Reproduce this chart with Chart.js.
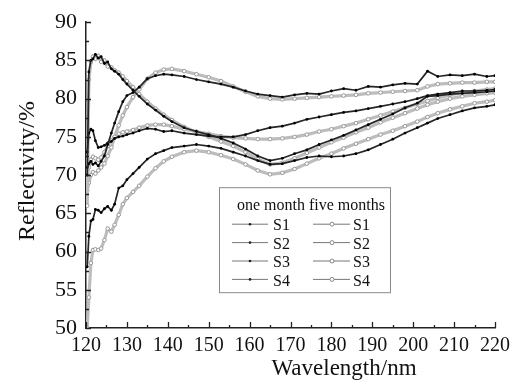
<!DOCTYPE html>
<html>
<head>
<meta charset="utf-8">
<title>Reflectivity vs wavelength</title>
<script src="https://cdn.jsdelivr.net/npm/chart.js@4.4.1/dist/chart.umd.min.js"></script>
<style>
    html, body { margin: 0; padding: 0; background: #fff; }
    #wrap { width: 516px; height: 381px; }
</style>
</head>
<body>
<div id="wrap"><canvas id="chart" width="516" height="381"></canvas></div>
<script>
// Wavelength grid (nm) shared by all curves
const wavelength = [120.3, 120.7, 121.2, 121.7, 122.3, 123, 123.7, 124.5, 125.3, 126.2,
    127, 128, 129, 130, 131.5, 133, 135, 137, 139, 141,
    144, 147, 150, 153, 156, 159, 162, 165, 168, 171,
    174, 177, 180, 183, 186, 189, 192, 195, 198, 201,
    203.5, 206, 209, 212, 215, 218, 220];

// one month
const s1OneMonth = [70, 83.5, 85, 85.2, 85.8, 85.3, 85.5, 84.6, 84.8, 83.9,
    83.6, 83.2, 82.5, 81.9, 81.1, 80.3, 79.3, 78.5, 77.7, 77,
    76.2, 75.7, 75.3, 74.8, 74.2, 73.4, 72.5, 71.9, 72.2, 72.8,
    73.3, 74, 74.6, 75.2, 75.9, 76.6, 77.3, 78, 78.8, 79.4,
    80.3, 80.4, 80.6, 80.7, 80.8, 80.9, 81];
const s2OneMonth = [71, 71.5, 71.8, 71.4, 71.6, 71.2, 71.8, 72.5, 74, 75.5,
    76.8, 78.3, 79.6, 80.4, 80.8, 81.5, 82.6, 83, 83.2, 83.1,
    82.9, 82.5, 82.2, 81.9, 81.5, 81, 80.6, 80.4, 80.2, 80.5,
    80.7, 80.6, 81, 81.3, 81.1, 81.6, 81.5, 81.8, 82, 81.9,
    83.6, 82.9, 83.1, 83, 83.2, 82.9, 83];
const s3OneMonth = [73, 75.5, 76, 75.8, 74.5, 73.6, 73.7, 73.9, 74.2, 74.4,
    74.8, 75, 75.1, 75.3, 75.5, 75.8, 76.1, 76, 75.7, 75.8,
    75.5, 75.3, 75.1, 75, 75, 75.3, 75.8, 76.2, 76.4, 76.8,
    77.3, 77.6, 77.9, 78.2, 78.4, 78.7, 79, 79.3, 79.6, 80,
    80.4, 80.6, 80.8, 81, 81, 81.1, 81.2];
const s4OneMonth = [58, 62, 64, 64.2, 65.5, 65.4, 65.1, 65.6, 65.9, 65.4,
    66.2, 68.3, 68.6, 69.4, 70.2, 71, 72.1, 72.8, 73.2, 73.6,
    73.8, 74, 73.8, 73.5, 73, 72.5, 71.9, 71.4, 71.5, 71.9,
    72.3, 72.5, 72.4, 72.5, 72.8, 73.3, 74, 74.7, 75.5, 76.2,
    76.8, 77.4, 77.9, 78.4, 78.8, 79, 79.2];

// five months
const s1FiveMonths = [66, 82.5, 84.8, 85.5, 85.2, 85.6, 84.8, 85, 84.2, 84.1,
    83.7, 83.4, 82.9, 82.3, 81.5, 80.6, 79.6, 78.7, 77.9, 77.2,
    76.3, 75.6, 75, 74.4, 73.8, 73, 72.1, 71.4, 71.6, 72.2,
    72.9, 73.6, 74.3, 74.9, 75.6, 76.2, 76.9, 77.5, 78.1, 78.7,
    79.2, 79.6, 80, 80.3, 80.5, 80.7, 80.8];
const s2FiveMonths = [68, 69, 70, 70.4, 70.2, 70.6, 71, 71.5, 72.5, 73.6,
    75, 76.5, 77.8, 78.9, 80.2, 81.2, 82.6, 83.4, 83.8, 83.9,
    83.6, 83.2, 82.8, 82.3, 81.6, 80.9, 80.3, 80, 79.9, 80,
    80.1, 80.2, 80.3, 80.4, 80.5, 80.7, 80.8, 80.9, 81, 81.1,
    81.6, 81.9, 82, 82.1, 82.1, 82.2, 82.2];
const s3FiveMonths = [70, 71, 72, 72.4, 72.2, 72, 72.3, 73, 73.8, 74.5,
    75, 75.4, 75.6, 75.7, 75.9, 76.2, 76.5, 76.6, 76.6, 76.4,
    76, 75.7, 75.4, 75.1, 74.9, 74.8, 74.7, 74.7, 74.8, 75,
    75.3, 75.7, 76, 76.4, 76.8, 77.3, 77.8, 78.3, 78.8, 79.3,
    79.7, 80.1, 80.5, 80.8, 81, 81.2, 81.3];
const s4FiveMonths = [50, 54, 58.5, 60.2, 60.3, 60.2, 60.4, 61.5, 63, 62.6,
    63.5, 64.8, 66.2, 67, 67.8, 68.6, 69.8, 70.9, 71.8, 72.4,
    73, 73.2, 73, 72.6, 72.1, 71.4, 70.6, 70.1, 70.3, 70.8,
    71.5, 72.2, 72.8, 73.5, 74.1, 74.7, 75.3, 75.8, 76.4, 77,
    77.6, 78.1, 78.6, 79, 79.4, 79.6, 79.8];

const sampleNames = ['S1', 'S2', 'S3', 'S4'];
const oneMonthSeries = [s1OneMonth, s2OneMonth, s3OneMonth, s4OneMonth];
const fiveMonthSeries = [s1FiveMonths, s2FiveMonths, s3FiveMonths, s4FiveMonths];

const xMin = 120, xMax = 220, xStep = 10;
const yMin = 50, yMax = 90, yStep = 5;

const FONT = "'Liberation Serif', 'Times New Roman', serif";
const DARK = '#262626';
const GRAY = '#bdbdbd';

function toPoints(values) {
    return values.map((v, i) => ({ x: wavelength[i], y: v }));
}

const datasets = [];
oneMonthSeries.forEach((vals, i) => {
    datasets.push({
        label: sampleNames[i] + ' one month',
        data: toPoints(vals),
        borderColor: DARK,
        borderWidth: 1.7,
        pointRadius: 1.4,
        pointBackgroundColor: '#000',
        pointBorderWidth: 0
    });
});
fiveMonthSeries.forEach((vals, i) => {
    datasets.push({
        label: sampleNames[i] + ' five months',
        data: toPoints(vals),
        borderColor: GRAY,
        borderWidth: 3.2,
        pointRadius: 1.8,
        pointBackgroundColor: '#fff',
        pointBorderColor: '#999',
        pointBorderWidth: 1
    });
});

/**
 * Inward tick marks, axis titles and the two-column legend box
 */
const decorPlugin = {
    id: 'decor',
    afterDraw(chart) {
        const ctx = chart.ctx;
        const area = chart.chartArea;
        const xs = chart.scales.x;
        const ys = chart.scales.y;

        ctx.save();
        ctx.strokeStyle = '#222';
        ctx.lineWidth = 1.3;
        ctx.beginPath();
        for (let v = xMin; v <= xMax; v += xStep / 2) {
            const px = Math.round(xs.getPixelForValue(v)) + 0.5;
            const len = (v % xStep === 0) ? 6 : 3;
            ctx.moveTo(px, area.bottom);
            ctx.lineTo(px, area.bottom - len);
        }
        for (let v = yMin; v <= yMax; v += yStep / 2) {
            const py = Math.round(ys.getPixelForValue(v)) + 0.5;
            const len = (v % yStep === 0) ? 5 : 3;
            ctx.moveTo(area.left, py);
            ctx.lineTo(area.left + len, py);
        }
        ctx.stroke();

        // axis titles
        ctx.fillStyle = '#111';
        ctx.textAlign = 'center';
        ctx.textBaseline = 'middle';
        ctx.font = '23px ' + FONT;
        ctx.fillText('Wavelength/nm', 344, 369);
        ctx.font = '24px ' + FONT;
        ctx.translate(28, 171);
        ctx.rotate(-Math.PI / 2);
        ctx.fillText('Reflectivity/%', 0, 0);
        ctx.restore();

        // legend
        ctx.save();
        const bx = area.left + 133, by = area.top + 165;
        ctx.strokeStyle = '#8a8a8a';
        ctx.lineWidth = 1;
        ctx.strokeRect(bx + 0.5, by + 0.5, 171, 105);
        ctx.fillStyle = '#111';
        ctx.font = '16px ' + FONT;
        ctx.textAlign = 'left';
        ctx.textBaseline = 'middle';
        ctx.fillText('one month five months', bx + 18, by + 19);
        sampleNames.forEach((name, i) => {
            const ry = by + 37 + i * 18.4;
            ctx.strokeStyle = '#777';
            ctx.lineWidth = 1;
            ctx.beginPath();
            ctx.moveTo(bx + 13, ry);
            ctx.lineTo(bx + 49, ry);
            ctx.moveTo(bx + 94, ry);
            ctx.lineTo(bx + 131, ry);
            ctx.stroke();
            ctx.fillStyle = '#222';
            ctx.beginPath();
            ctx.arc(bx + 31, ry, 1.3, 0, Math.PI * 2);
            ctx.fill();
            ctx.fillStyle = '#fff';
            ctx.strokeStyle = '#888';
            ctx.beginPath();
            ctx.arc(bx + 113, ry, 2, 0, Math.PI * 2);
            ctx.fill();
            ctx.stroke();
            ctx.fillStyle = '#111';
            ctx.fillText(name, bx + 54, ry + 2);
            ctx.fillText(name, bx + 134, ry + 2);
        });
        ctx.restore();
    }
};

new Chart(document.getElementById('chart'), {
    type: 'line',
    data: { datasets: datasets },
    options: {
        responsive: false,
        animation: false,
        layout: { padding: { left: 0, top: 22, right: 21, bottom: 0 } },
        elements: { line: { tension: 0 } },
        plugins: {
            legend: { display: false },
            tooltip: { enabled: false }
        },
        scales: {
            x: {
                type: 'linear',
                min: xMin,
                max: xMax,
                afterFit: (scale) => { scale.height = 53; },
                grid: { display: false, drawTicks: false },
                border: { display: true, color: '#222', width: 1.5 },
                ticks: {
                    stepSize: xStep,
                    padding: 6,
                    color: '#111',
                    maxRotation: 0,
                    font: { family: FONT, size: 20 }
                }
            },
            y: {
                min: yMin,
                max: yMax,
                afterFit: (scale) => { scale.width = 86; },
                grid: { display: false, drawTicks: false },
                border: { display: true, color: '#222', width: 1.5 },
                ticks: {
                    stepSize: yStep,
                    padding: 9,
                    color: '#111',
                    font: { family: FONT, size: 22 }
                }
            }
        }
    },
    plugins: [decorPlugin]
});
</script>
</body>
</html>
